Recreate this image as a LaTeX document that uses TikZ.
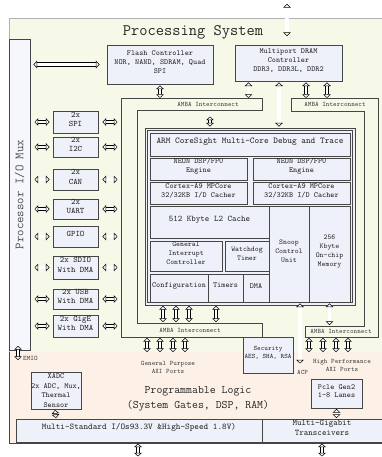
\documentclass[tikz,border=0pt]{standalone}
\renewcommand*\familydefault{\ttdefault}
\usetikzlibrary{arrows.meta,fit}
\definecolor{psbg}{RGB}{246,248,232}
\definecolor{plbg}{RGB}{253,241,231}
\definecolor{boxbg}{RGB}{238,241,250}
\definecolor{edge}{RGB}{70,70,70}
\begin{document}
\begin{tikzpicture}[x=1pt,y=-1pt]
	\tikzset{
		blk/.style={draw=edge,line width=0.9pt,fill=boxbg,inner sep=0pt,align=center,text=black!85,font=\fontsize{7.8}{8.8}\selectfont},
		lbl/.style={align=center,inner sep=0pt,font=\fontsize{6.8}{8}\selectfont,text=black!75},
		frame/.style={draw=edge,line width=0.8pt,fill=psbg},
		hol/.tip={Triangle[length=3.6pt,width=7.6pt,fill=white,line width=0.5pt]},
		dar/.style={draw=black,line width=0.5pt,double=white,double distance=2.4pt,{hol}-{hol}},
		bar/.style={dar,double distance=3.2pt},
	}
	\useasboundingbox (0,0) rectangle (382,457);
	
	% PS and PL areas
	\fill[psbg] (9,18) rectangle (382,352);
	\draw[gray!60] (382,18)--(9,18)--(9,352);
	\fill[plbg] (9,352) rectangle (382,443);
	\draw[edge,line width=0.8pt] (9,352)--(9,443)--(382,443);
	\node[font=\fontsize{16}{18}\selectfont,text=black!85] (title) at (193,32) {Processing System};
	
	\node[blk,fill=boxbg!60,fit={(9,39) (30,350)}] (mux) {};
	\node[rotate=90,font=\fontsize{12.5}{14}\selectfont,text=black!70] at (mux.center) {Processor I/O Mux};
	
	\node[blk,fit={(107,45) (213,84)}] (flash) {Flash Controller\\NOR, NAND, SDRAM, Quad\\SPI};
	\node[blk,fit={(235,45) (342,81)}] (dram) {Multiport DRAM\\Controller\\DDR3, DDR3L, DDR2};
	
	% AMBA interconnects
	\draw[frame] (121,98)--(262,98)--(262,110)--(137,110)--(137,323)--(262,323)--(262,337)--(121,337)--cycle;
	\draw[frame] (291,98)--(378,98)--(378,337)--(305,337)--(305,326)--(364,326)--(364,111)--(291,111)--cycle;
	\node[lbl] (ambaA) at (208,104.5) {AMBA Interconnect};
	\node[lbl] (ambaB) at (190,330.5) {AMBA Interconnect};
	\node[lbl] (ambaC) at (335,104.5) {AMBA Interconnect};
	\node[lbl] (ambaD) at (341,331.5) {AMBA Interconnect};
	\coordinate (ambaDtop) at (341,326);
	
	% peripherals
	\foreach \nm/\ya/\yb/\txt in {spi/111/133/{2x\\SPI},i2c/137/157/{2x\\I2C},can/169/190/{2x\\CAN},
		uart/199/219/{2x\\UART},gpio/226/247/{GPIO},sdio/256/279/{2x SDIO\\With DMA},
		usb/289/309/{2x USB\\With DMA},gige/315/337/{2x GigE\\With DMA}}
	{
		\node[blk,font=\fontsize{8.4}{9.6}\selectfont,fit={(53,\ya) (98,\yb)}] (\nm) {\txt};
		\draw[dar] ([xshift=-18pt]\nm.west) -- ([xshift=-3pt]\nm.west);
		\draw[dar] ([xshift=4pt]\nm.east) -- ([xshift=19pt]\nm.east);
	}
	
	% application processor unit
	\node[blk,fit={(145,128) (355,305)}] (apu) {};
	\draw[edge,line width=0.6pt] (147.5,130.5) rectangle (352.5,302.5);
	\node[blk,font=\fontsize{8.9}{10}\selectfont,fit={(150,133) (350,156)}] (arm) {ARM CoreSight Multi-Core Debug and Trace};
	\node[blk,fit={(150,158) (247,180)}] (neonA) {NEON DSP/FPU\\Engine};
	\node[blk,fit={(253,158) (350,180)}] (neonB) {NEON DSP/FPU\\Engine};
	\node[blk,fit={(150,182) (247,204)}] (cpuA) {Cortex-A9 MPCore\\32/32KB I/D Cacher};
	\node[blk,fit={(253,182) (350,204)}] (cpuB) {Cortex-A9 MPCore\\32/32KB I/D Cacher};
	\node[blk,font=\fontsize{8.6}{10}\selectfont,fit={(150,206) (269,238)}] (l2) {512 Kbyte L2 Cache};
	\node[blk,font=\fontsize{7.4}{9}\selectfont,fit={(150,241) (222,271)}] (gic) {General\\Interrupt\\Controller};
	\node[blk,font=\fontsize{7.4}{9}\selectfont,fit={(225,241) (269,271)}] (wdt) {Watchdog\\Timer};
	\node[blk,fit={(150,274) (208,302)}] (cfg) {Configuration};
	\node[blk,fit={(208,274) (243,302)}] (tmr) {Timers};
	\node[blk,fit={(243,274) (269,302)}] (dma) {DMA};
	\node[blk,font=\fontsize{7.4}{9}\selectfont,fit={(269,206) (309,302)}] (scu) {Snoop\\Control\\Unit};
	\node[blk,font=\fontsize{7.4}{9}\selectfont,fit={(309,206) (350,302)}] (ocm) {256\\Kbyte\\On-chip\\Memory};
	
	% PL side blocks
	\node[blk,font=\fontsize{6.8}{8.5}\selectfont,fit={(243,337) (293,373)}] (sec) {Security\\AES, SHA, RSA};
	\node[blk,fit={(311,379) (362,408)}] (pcie) {Pcle Gen2\\1-8 Lanes};
	\node[blk,fit={(31,372) (81,409)}] (xadc) {};
	\node[align=center,text=black!85,font=\fontsize{7.8}{9.6}\selectfont] at (xadc.center) {XADC\\2x ADC, Mux,\\Thermal\\Sensor};
	\node[blk,font=\fontsize{8.8}{10}\selectfont,fit={(16,419) (262,442)}] (mio) {Multi-Standard I/Os93.3V \&High-Speed 1.8V)};
	\node[blk,font=\fontsize{8.6}{10}\selectfont,fit={(262,419) (382,442)}] (mgt) {Multi-Gigabit\\Transceivers};
	
	\node[lbl] (gp) at (168,367) {General Purpose\\AXI Ports};
	\node[lbl] (hp) at (342,365) {High Performance\\AXI Ports};
	\node[lbl,anchor=west] (acp) at (297,372) {ACP};
	\node[lbl,anchor=west] (emio) at (23,358) {EMIO};
	\node[align=center,text=black!85,font=\fontsize{11.5}{15}\selectfont] (pl) at (198,399) {Programmable Logic\\(System Gates, DSP, RAM)};
	
	% connections
	\coordinate (top) at (287,4);
	\coordinate (xddr) at (279,0);
	\coordinate (xacp) at (300,0);
	\draw[bar] (top) -- ++(0,32);
	\draw[bar] ([xshift=3pt]mux.east |- flash.west) -- ([xshift=-7pt]flash.west);
	\draw[dar] ([yshift=-1pt]flash.south) -- ++(0,12.5);
	\draw[dar] ([xshift=-40pt,yshift=-1pt]dram.south) -- ++(0,15.5);
	\draw[bar] ([yshift=-1pt]dram.south -| xddr) -- ([yshift=1pt]apu.north -| xddr);
	\draw[dar] ([xshift=17.5pt,yshift=-1pt]dram.south) -- ++(0,15.5);
	\draw[dar] ([xshift=38.5pt,yshift=-1pt]dram.south) -- ++(0,15.5);
	\draw[dar] ([xshift=-40pt,yshift=11pt]apu.north) -- ([xshift=-40pt,yshift=1pt]apu.north);
	\foreach \x in {163,176,189,216}
		\draw[dar] (\x,306) -- (\x,322);
	\foreach \x in {147,160,173,185}
		\draw[dar] (\x,338) -- (\x,352);
	\draw[bar] ([yshift=-1pt]scu.south -| xacp) -- ([yshift=10pt]sec.south -| xacp);
	\draw[dar] ([yshift=-1pt]ocm.south) -- ([yshift=1pt]ambaDtop -| ocm.south);
	\foreach \x in {309,323,336,348}
		\draw[dar] (\x,338) -- (\x,352);
	\draw[dar] ([yshift=-0.5pt]pcie.south) -- ([yshift=0.5pt]mgt.north -| pcie.south);
	\draw[dar] ([xshift=-1pt,yshift=-0.5pt]xadc.south) -- ([yshift=0.5pt]mio.north -| xadc.south);
	\draw[dar] (18,346) -- (18,360);
	\draw[dar] ([yshift=-1pt]mio.south -| 138,0) -- ++(0,13);
	\draw[dar] ([yshift=-1pt]mgt.south -| 322,0) -- ++(0,13);
\end{tikzpicture}
\end{document}
